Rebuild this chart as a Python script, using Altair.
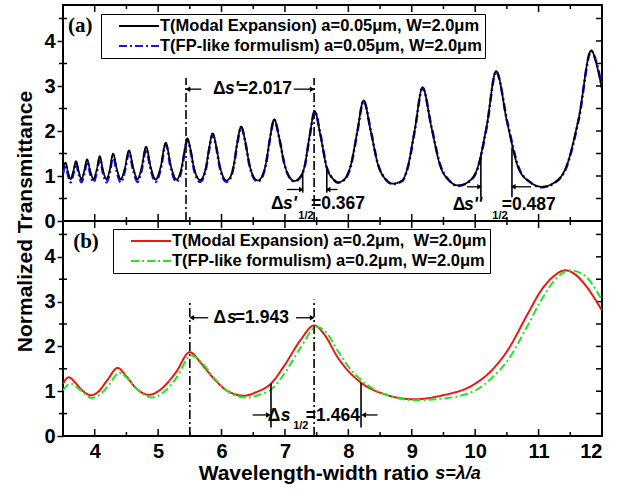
import altair as alt
import pandas as pd

FONT = "Liberation Sans"
SERIF = "Liberation Serif"

# ---------------- panel (a) curves ----------------
s_a = [3.50, 3.54, 3.58, 3.62, 3.66, 3.705, 3.75, 3.79, 3.835, 3.88, 3.93, 3.98,
       4.03, 4.08, 4.13, 4.185, 4.24, 4.29, 4.35, 4.41, 4.475, 4.54, 4.61, 4.675,
       4.74, 4.81, 4.885, 4.96, 5.04, 5.12, 5.205, 5.29, 5.33, 5.375, 5.42, 5.46,
       5.51, 5.56, 5.61, 5.66, 5.71, 5.76, 5.81, 5.86, 5.915, 5.97, 6.025, 6.08,
       6.14, 6.195, 6.25, 6.31, 6.375, 6.44, 6.505, 6.57, 6.635, 6.70, 6.765, 6.83,
       6.91, 6.99, 7.07, 7.15, 7.23, 7.31, 7.39, 7.47, 7.56, 7.66, 7.75, 7.84,
       7.94, 8.04, 8.14, 8.24, 8.355, 8.47, 8.585, 8.70, 8.85, 8.94, 9.05, 9.17,
       9.31, 9.45, 9.59, 9.73, 9.88, 10.03, 10.18, 10.33, 10.51, 10.69, 10.87, 11.05,
       11.245, 11.44, 11.635, 11.83, 11.92, 12.00]
t_a_modal = [1.16, 1.30, 1.08, 0.93, 1.09, 1.33, 1.09, 0.93, 1.11, 1.37, 1.11, 0.93,
             1.13, 1.44, 1.13, 0.93, 1.15, 1.50, 1.15, 0.93, 1.17, 1.57, 1.17, 0.93,
             1.19, 1.65, 1.19, 0.92, 1.20, 1.74, 1.20, 0.92, 0.99, 1.22, 1.60, 1.84,
             1.60, 1.22, 0.99, 0.91, 0.985, 1.24, 1.67, 1.95, 1.67, 1.24, 0.985, 0.90,
             0.98, 1.26, 1.76, 2.10, 1.76, 1.26, 0.98, 0.90, 0.98, 1.28, 1.85, 2.26,
             1.85, 1.28, 0.98, 0.89, 0.96, 1.22, 1.90, 2.44, 1.90, 1.18, 0.95, 0.86,
             0.93, 1.25, 1.98, 2.68, 1.98, 1.24, 0.93, 0.83, 0.90, 1.22, 2.05, 2.97,
             2.08, 1.22, 0.90, 0.79, 0.86, 1.15, 2.10, 3.33, 2.15, 1.15, 0.86, 0.76,
             0.85, 1.22, 2.30, 3.79, 3.45, 2.93]
t_a_fp = [1.05, 1.25, 1.02, 0.86, 1.03, 1.28, 1.03, 0.86, 1.05, 1.32, 1.05, 0.86,
          1.07, 1.39, 1.07, 0.86, 1.09, 1.45, 1.09, 0.86, 1.11, 1.52, 1.11, 0.87,
          1.13, 1.60, 1.13, 0.87, 1.15, 1.70, 1.15, 0.87, 0.95, 1.17, 1.55, 1.80,
          1.57, 1.18, 0.95, 0.87, 0.95, 1.20, 1.63, 1.92, 1.65, 1.21, 0.95, 0.87,
          0.95, 1.23, 1.73, 2.08, 1.75, 1.24, 0.96, 0.88, 0.96, 1.26, 1.83, 2.25,
          1.85, 1.27, 0.97, 0.88, 0.95, 1.20, 1.88, 2.43, 1.92, 1.19, 0.95, 0.85,
          0.92, 1.23, 1.96, 2.67, 2.00, 1.25, 0.93, 0.82, 0.89, 1.20, 2.03, 2.96,
          2.10, 1.24, 0.90, 0.78, 0.85, 1.13, 2.07, 3.32, 2.18, 1.17, 0.86, 0.75,
          0.84, 1.20, 2.27, 3.78, 3.48, 2.96]

# ---------------- panel (b) curves ----------------
s_b_modal = [3.50, 3.59, 3.70, 3.80, 3.94, 4.05, 4.20, 4.36, 4.50, 4.65, 4.86, 5.05,
             5.28, 5.50, 5.68, 5.86, 6.10, 6.36, 6.55, 6.78, 6.99, 7.25, 7.46, 7.62,
             7.83, 8.00, 8.20, 8.60, 9.04, 9.46, 9.99, 10.25, 10.51, 10.83, 11.04, 11.25,
             11.42, 11.60, 11.72, 12.00]
t_b_modal = [1.17, 1.31, 1.18, 1.02, 0.91, 0.98, 1.25, 1.52, 1.33, 1.07, 0.92, 1.05,
             1.42, 1.87, 1.62, 1.31, 1.00, 0.90, 0.98, 1.17, 1.57, 2.15, 2.47, 2.27,
             1.76, 1.45, 1.19, 0.92, 0.82, 0.90, 1.16, 1.45, 1.91, 2.73, 3.25, 3.58,
             3.70, 3.58, 3.40, 2.80]
s_b_fp = [3.50, 3.62, 3.78, 3.95, 4.08, 4.23, 4.39, 4.52, 4.68, 4.90, 5.08, 5.30,
          5.52, 5.70, 5.90, 6.15, 6.40, 6.60, 6.80, 6.99, 7.25, 7.50, 7.66, 7.83,
          8.00, 8.20, 8.60, 9.06, 9.46, 9.99, 10.25, 10.51, 10.83, 11.04, 11.30, 11.49,
          11.72, 12.00]
t_b_fp = [1.02, 1.17, 1.02, 0.85, 0.92, 1.15, 1.42, 1.28, 1.03, 0.86, 0.97, 1.32,
          1.80, 1.62, 1.27, 0.95, 0.86, 0.92, 1.06, 1.39, 1.98, 2.44, 2.30, 1.91,
          1.55, 1.25, 0.92, 0.80, 0.83, 1.01, 1.28, 1.68, 2.47, 3.03, 3.55, 3.70,
          3.59, 3.03]

labels_a = ["T(Modal Expansion) a=0.05\u03bcm, W=2.0\u03bcm\u00a0\u00a0",
            "T(FP-like formulism) a=0.05\u03bcm, W=2.0\u03bcm\u00a0\u00a0"]
labels_b = ["T(Modal Expansion) a=0.2\u03bcm,\u00a0 W=2.0\u03bcm\u00a0\u00a0",
            "T(FP-like formulism) a=0.2\u03bcm, W=2.0\u03bcm\u00a0\u00a0"]
colors_a = ["#000000", "#1414f0"]
colors_b = ["#ee1515", "#22e622"]

# ---------------- axes ticks ----------------
x_major = [4, 5, 6, 7, 8, 9, 10, 11, 12]
x_minor = [4.5, 5.5, 6.5, 7.5, 8.5, 9.5, 10.5, 11.5]
y_major = [0, 1, 2, 3, 4]
y_half = [0.5, 1.0, 1.5, 2.0, 2.5, 3.0, 3.5, 4.0, 4.5]
y_minor = [0.5, 1.5, 2.5, 3.5, 4.5]

# ---------------- annotations ----------------
vline_a_s = [5.44, 7.46]
vline_a_top = [3.18, 3.18]
half_a_s = [7.28, 7.66, 10.09, 10.58]
half_a_top = [1.12, 1.16, 1.48, 1.63]
half_a_bot = [0.63, 0.63, 0.53, 0.53]
arrow_a_from = [5.68, 7.14, 7.03, 7.83, 9.87, 10.88]
arrow_a_to = [5.47, 7.43, 7.26, 7.68, 10.07, 10.60]
arrow_a_y = [2.93, 2.93, 0.70, 0.70, 0.76, 0.76]
txt_a = ["\u0394", "=2.017", "\u0394", "1/2", "=0.367", "\u0394", "1/2", "=0.487"]
txt_a_s = [5.866, 6.26, 6.78, 7.21, 7.41, 9.647, 10.27, 10.42]
txt_a_t = [2.93, 2.93, 0.38, 0.11, 0.38, 0.36, 0.11, 0.36]
txt_a_fs = [17.5, 17.5, 17.5, 11, 17.5, 17.5, 11, 17.5]
ital_a = ["s'", "s'", "s''"]
ital_a_s = [6.055, 6.97, 9.825]
ital_a_t = [2.93, 0.38, 0.36]

vline_b_s = [5.50, 7.46]
vline_b_top = [3.0, 3.05]
half_b_s = [6.78, 8.20]
half_b_top = [1.17, 1.19]
half_b_bot = [0.19, 0.19]
arrow_b_from = [5.79, 7.175, 6.49, 8.46]
arrow_b_to = [5.53, 7.43, 6.74, 8.24]
arrow_b_y = [2.64, 2.64, 0.47, 0.47]
txt_b = ["\u0394", "=1.943", "\u0394", "1/2", "=1.464"]
txt_b_s = [5.875, 6.21, 6.73, 7.13, 7.33]
txt_b_t = [2.64, 2.64, 0.45, 0.22, 0.45]
txt_b_fs = [17.5, 17.5, 17.5, 11, 17.5]
ital_b = ["s", "s"]
ital_b_s = [6.085, 6.935]
ital_b_t = [2.64, 0.45]

XS = alt.Scale(domain=[3.5, 12], nice=False, zero=False)
YS = alt.Scale(domain=[0, 4.8], nice=False, zero=False)
W = 539


def panel(s_m, t_m, s_f, t_f, labels, colors, vl_s, vl_top, h_s, h_top, h_bot,
          a_from, a_to, a_y, tx, tx_s, tx_t, tx_fs, it, it_s, it_t,
          tag, tag_s, leg_x, leg_y, height, bottom, ytitle, fp_on_top):
    if bottom:
        xaxis = alt.Axis(values=x_major, format="d", labelFont=FONT, labelFontSize=20,
                         labelFontWeight="bold", labelColor="black", ticks=False,
                         tickSize=0, domain=False, grid=False, labelPadding=5,
                         title=None)
    else:
        xaxis = None
    ykw = dict(values=y_major, labelFont=FONT, labelFontSize=20, labelFontWeight="bold",
               labelColor="black", tickSize=6, tickWidth=1.5, tickColor="black",
               domain=False, grid=False, labelPadding=2)
    if ytitle:
        yaxis = alt.Axis(title=ytitle, titleX=-38, titleY=height, titleFont=FONT,
                         titleFontSize=21, titleFontWeight="bold", titleColor="black",
                         titleAngle=270, titleAlign="center", titleBaseline="middle",
                         **ykw)
    else:
        yaxis = alt.Axis(title=None, **ykw)
    X = alt.X("s:Q", scale=XS, axis=xaxis)
    Y = alt.Y("T:Q", scale=YS, axis=yaxis)

    leg = alt.Legend(orient="none", legendX=leg_x, legendY=leg_y, title=None,
                     strokeColor="black", fillColor="white", padding=3,
                     symbolType="M-2.5,0H2.5", symbolSize=256, symbolStrokeWidth=2,
                     symbolOffset=26, labelOffset=12, labelFont=FONT,
                     labelFontSize=16.5, labelFontWeight="bold", labelColor="black",
                     labelLimit=800, rowPadding=2, cornerRadius=0)
    color = alt.Color("series:N", scale=alt.Scale(domain=labels, range=colors), legend=leg)
    dash = alt.StrokeDash("series:N", scale=alt.Scale(domain=labels, range=[[1, 0], [8, 3, 2, 3]]),
                          legend=leg)

    df_m = pd.DataFrame({"s": s_m, "T": t_m, "series": labels[0]})
    df_f = pd.DataFrame({"s": s_f, "T": t_f, "series": labels[1]})
    wm, wf = (2.0, 2.0) if fp_on_top else (1.7, 2.6)
    line_m = alt.Chart(df_m).mark_line(strokeWidth=wm, interpolate="monotone", clip=True).encode(
        x=X, y=Y, color=color, strokeDash=dash)
    line_f = alt.Chart(df_f).mark_line(strokeWidth=wf, interpolate="monotone", clip=True).encode(
        x=X, y=Y, color=color, strokeDash=dash)
    curves = [line_m, line_f] if fp_on_top else [line_f, line_m]

    def ticks(sv, tv, orient, size, clip=True):
        d = pd.DataFrame({"s": sv, "T": tv})
        return alt.Chart(d).mark_tick(orient=orient, size=size, thickness=1.5,
                                      color="black", opacity=1, clip=clip).encode(x=X, y=Y)

    tk = [
        ticks(x_major, [0.0] * len(x_major), "vertical", 14),
        ticks(x_minor, [0.0] * len(x_minor), "vertical", 8),
        ticks(x_major, [4.8] * len(x_major), "vertical", 14),
        ticks(x_minor, [4.8] * len(x_minor), "vertical", 8),
        ticks([12.0] * len(y_half), y_half, "horizontal", 12),
        ticks([3.5] * len(y_minor), y_minor, "horizontal", 8, clip=False),
    ]

    vl = alt.Chart(pd.DataFrame({"s": vl_s, "T": [0.0] * len(vl_s), "T2": vl_top})).mark_rule(
        color="black", strokeWidth=1.6, strokeDash=[9, 3, 2, 3]).encode(x=X, y=Y, y2="T2:Q")
    hl = alt.Chart(pd.DataFrame({"s": h_s, "T": h_bot, "T2": h_top})).mark_rule(
        color="black", strokeWidth=1.6).encode(x=X, y=Y, y2="T2:Q")
    ar = alt.Chart(pd.DataFrame({"s": a_from, "s2": a_to, "T": a_y})).mark_rule(
        color="black", strokeWidth=1.3).encode(x=X, x2="s2:Q", y=Y)
    shapes = ["triangle-right" if b > a else "triangle-left" for a, b in zip(a_from, a_to)]
    ah = alt.Chart(pd.DataFrame({"s": a_to, "T": a_y, "shape": shapes})).mark_point(
        filled=True, size=30, color="black", opacity=1).encode(
        x=X, y=Y, shape=alt.Shape("shape:N", scale=None))

    tn = alt.Chart(pd.DataFrame({"s": tx_s, "T": tx_t, "text": tx, "fs": tx_fs})).mark_text(
        align="left", baseline="middle", font=FONT, fontWeight="bold", color="black").encode(
        x=X, y=Y, text="text:N", size=alt.Size("fs:Q", scale=None))
    ti = alt.Chart(pd.DataFrame({"s": it_s, "T": it_t, "text": it})).mark_text(
        align="left", baseline="middle", font=FONT, fontWeight="bold", fontStyle="italic",
        fontSize=17.5, color="black").encode(x=X, y=Y, text="text:N")
    tg = alt.Chart(pd.DataFrame({"s": [tag_s], "T": [4.33], "text": [tag]})).mark_text(
        align="left", baseline="middle", font=SERIF, fontWeight="bold", fontSize=21,
        color="black").encode(x=X, y=Y, text="text:N")

    layers = tk + [vl] + curves + [hl, ar, ah, tn, ti, tg]
    if bottom:
        xt1 = alt.Chart(pd.DataFrame({"s": [9.27], "T": [-0.84], "text": ["Wavelength-width ratio"]})).mark_text(
            align="right", baseline="middle", font=FONT, fontWeight="bold", fontSize=21,
            color="black").encode(x=X, y=Y, text="text:N")
        xt2 = alt.Chart(pd.DataFrame({"s": [9.37], "T": [-0.84], "text": ["s=\u03bb/a"]})).mark_text(
            align="left", baseline="middle", font=FONT, fontWeight="bold", fontStyle="italic",
            fontSize=18, color="black").encode(x=X, y=Y, text="text:N")
        layers += [xt1, xt2]
    return alt.layer(*layers).properties(width=W, height=height)


pa = panel(s_a, t_a_modal, s_a, t_a_fp, labels_a, colors_a, vline_a_s, vline_a_top,
           half_a_s, half_a_top, half_a_bot, arrow_a_from, arrow_a_to, arrow_a_y,
           txt_a, txt_a_s, txt_a_t, txt_a_fs, ital_a, ital_a_s, ital_a_t,
           "(a)", 3.58, 38, 9, 216, False, "Normalized Transmittance", False)
pb = panel(s_b_modal, t_b_modal, s_b_fp, t_b_fp, labels_b, colors_b, vline_b_s, vline_b_top,
           half_b_s, half_b_top, half_b_bot, arrow_b_from, arrow_b_to, arrow_b_y,
           txt_b, txt_b_s, txt_b_t, txt_b_fs, ital_b, ital_b_s, ital_b_t,
           "(b)", 3.66, 50, 8, 215, True, None, True)

chart = alt.vconcat(pa, pb, spacing=0, bounds="flush").resolve_scale(
    color="independent", strokeDash="independent").resolve_legend(
    color="independent", strokeDash="independent").properties(
    padding={"left": 12, "top": 4, "right": 8, "bottom": 4},
    background="white").configure_view(stroke="black", strokeWidth=2)

chart.save("out.html", embed_options={"renderer": "svg", "actions": False})
